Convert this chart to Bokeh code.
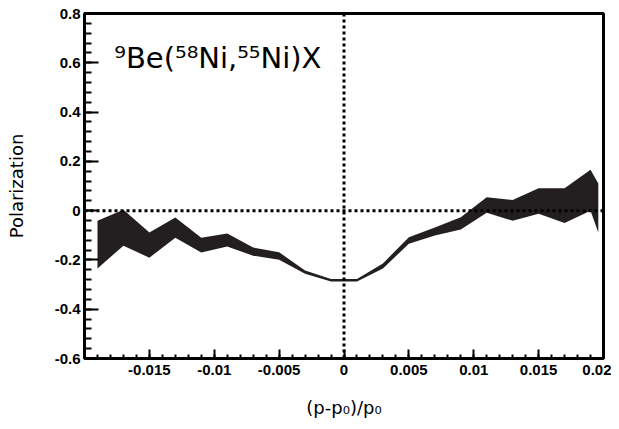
from bokeh.plotting import figure
from bokeh.models import Range1d, FixedTicker, Span, Label
from bokeh.embed import file_html
from bokeh.resources import INLINE

# ---- data ----
x_pos = [-0.019, -0.017, -0.015, -0.013, -0.011, -0.009, -0.007, -0.005, -0.003, -0.001,
         0.001, 0.003, 0.005, 0.007, 0.009, 0.011, 0.013, 0.015, 0.017, 0.019, 0.0196]
pol_upper = [-0.041, 0.004, -0.089, -0.028, -0.110, -0.093, -0.150, -0.169, -0.243, -0.277,
             -0.277, -0.214, -0.108, -0.068, -0.027, 0.054, 0.043, 0.091, 0.091, 0.166, 0.110]
pol_lower = [-0.235, -0.142, -0.191, -0.110, -0.170, -0.146, -0.183, -0.199, -0.256, -0.288,
             -0.288, -0.235, -0.134, -0.101, -0.077, -0.009, -0.041, -0.013, -0.050, 0.000, -0.089]

x_ticks = [-0.015, -0.01, -0.005, 0, 0.005, 0.01, 0.015, 0.02]
x_tick_labels = ["-0.015", "-0.01", "-0.005", "0", "0.005", "0.01", "0.015", "0.02"]
x_minor = [round(-0.02 + 0.001 * i, 3) for i in range(41)]

y_ticks = [-0.6, -0.4, -0.2, 0, 0.2, 0.4, 0.6, 0.8]
y_tick_labels = ["-0.6", "-0.4", "-0.2", "0", "0.2", "0.4", "0.6", "0.8"]
y_minor = [round(-0.6 + 0.04 * i, 2) for i in range(36)]

title_text = "\u2079Be(\u2075\u2078Ni,\u2075\u2075Ni)X"
x_title = "(p-p\u2080)/p\u2080"
y_title = "Polarization"

p = figure(width=611, height=421, output_backend="svg", toolbar_location=None,
           x_range=Range1d(-0.02, 0.02), y_range=Range1d(-0.6, 0.8),
           min_border_left=84, min_border_right=8, min_border_top=13, min_border_bottom=63)
p.xgrid.visible = False
p.ygrid.visible = False
p.background_fill_color = "white"
p.border_fill_color = "white"
p.outline_line_color = "black"
p.outline_line_width = 3

p.varea(x=x_pos, y1=pol_lower, y2=pol_upper, fill_color="#231f20", fill_alpha=1.0)

p.add_layout(Span(location=0, dimension="width", line_color="black", line_width=3, line_dash="3 3"))
p.add_layout(Span(location=0, dimension="height", line_color="black", line_width=3, line_dash="3 3"))

for ax, ticks, labels, minor, tin, min_in in [
        (p.xaxis[0], x_ticks, x_tick_labels, x_minor, 9, 4),
        (p.yaxis[0], y_ticks, y_tick_labels, y_minor, 14, 7)]:
    ax.ticker = FixedTicker(ticks=ticks, minor_ticks=minor)
    ax.major_label_overrides = {t: l for t, l in zip(ticks, labels)}
    ax.major_tick_in = tin
    ax.major_tick_out = 0
    ax.minor_tick_in = min_in
    ax.minor_tick_out = 0
    ax.major_tick_line_width = 2
    ax.minor_tick_line_width = 2
    ax.major_tick_line_color = "black"
    ax.minor_tick_line_color = "black"
    ax.axis_line_color = None
    ax.major_label_text_font = "Liberation Sans"
    ax.major_label_text_font_style = "bold"
    ax.major_label_text_font_size = "15px"
    ax.major_label_text_color = "black"
    ax.axis_label_text_font = "DejaVu Sans"
    ax.axis_label_text_font_style = "normal"
    ax.axis_label_text_font_size = "18px"
    ax.axis_label_text_color = "black"

p.xaxis.major_label_standoff = 6
p.yaxis.major_label_standoff = 4
p.xaxis.axis_label = x_title
p.xaxis.axis_label_standoff = 19
p.yaxis.axis_label = y_title
p.yaxis.axis_label_standoff = 25

p.add_layout(Label(x=-0.0177, y=0.618, text=title_text, text_font="DejaVu Sans",
                   text_font_size="29px", text_align="left", text_baseline="alphabetic",
                   text_color="black"))

open("out.html", "w").write(file_html(p, INLINE))
